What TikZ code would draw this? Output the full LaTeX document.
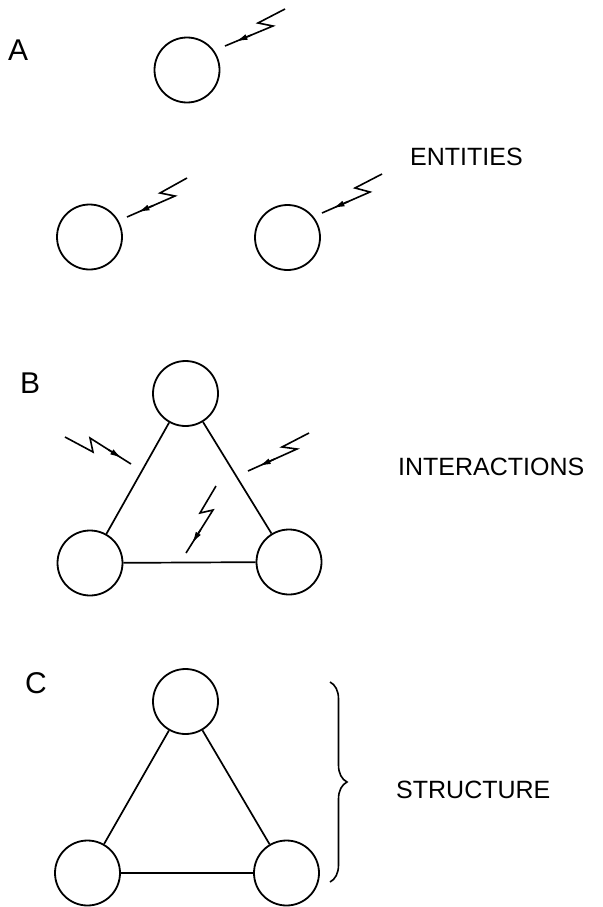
\documentclass[tikz,border=0pt]{standalone}
\usepackage{fontspec}
\setmainfont{Liberation Sans}
\usetikzlibrary{calc,arrows.meta,decorations.pathreplacing}
\tikzset{
  ent/.style={circle,draw,line width=1.8pt,minimum size=65pt,inner sep=0pt},
  edge/.style={line width=1.7pt},
  bolt/.style={line width=1.6pt,line join=miter},
  tipmark/.style={line width=1.6pt,-{Latex[length=12pt,width=6pt]}},
  lbl/.style={anchor=base west,inner sep=0pt,font=\fontsize{30}{30}\selectfont},
  txt/.style={anchor=base west,inner sep=0pt,font=\fontsize{25}{25}\selectfont}
}
\newcommand{\mybolt}[4]{%
  \draw[bolt] #1 -- #2 -- #3 -- #4;
  \draw[tipmark] ($#3!0.45!#4$) -- ($#3!0.78!#4$);
}
\begin{document}
\begin{tikzpicture}[x=1pt,y=-1pt]
\path[use as bounding box] (0,0) rectangle (602,907);
% Labels
\node[lbl] (labA) at (8,60) {A};
\node[lbl] (labB) at (20,393) {B};
\node[lbl] (labC) at (25,693) {C};
\node[txt] (tE) at (410,165) {ENTITIES};
\node[txt] (tI) at (398,475) {INTERACTIONS};
\node[txt] (tS) at (396,798) {STRUCTURE};
% A: entities
\node[ent] (a1) at (187,70) {};
\node[ent] (a2) at (89.5,237) {};
\node[ent] (a3) at (287.5,237.5) {};
\mybolt{(285,9)}{(258,23)}{(273,26)}{(225,46)}
\mybolt{(187,178)}{(160,193)}{(175,196)}{(127,217)}
\mybolt{(382,174)}{(355,188)}{(370,192)}{(322,213)}
% B: interactions
\node[ent] (bT) at (185.5,393.5) {};
\node[ent] (bL) at (90,563) {};
\node[ent] (bR) at (289,562) {};
\draw[edge] (bT) -- (bL);
\draw[edge] (bT) -- (bR);
\draw[edge] (bL) -- (bR);
\mybolt{(65,437)}{(93,452)}{(90,438)}{(131,464)}
\mybolt{(309,433)}{(282,447)}{(297,449)}{(248,471)}
\mybolt{(216,486)}{(200,513)}{(213,510)}{(186,553)}
% C: structure
\node[ent] (cT) at (185.5,701.5) {};
\node[ent] (cL) at (87.5,873) {};
\node[ent] (cR) at (286.5,873) {};
\draw[edge] (cT) -- (cL);
\draw[edge] (cT) -- (cR);
\draw[edge] (cL) -- (cR);
\coordinate (brTop) at (330,682);
\coordinate (brBot) at (330,882);
\draw[line width=1.6pt,decorate,decoration={brace,amplitude=17pt}] (brTop) -- (brBot);
\end{tikzpicture}
\end{document}
